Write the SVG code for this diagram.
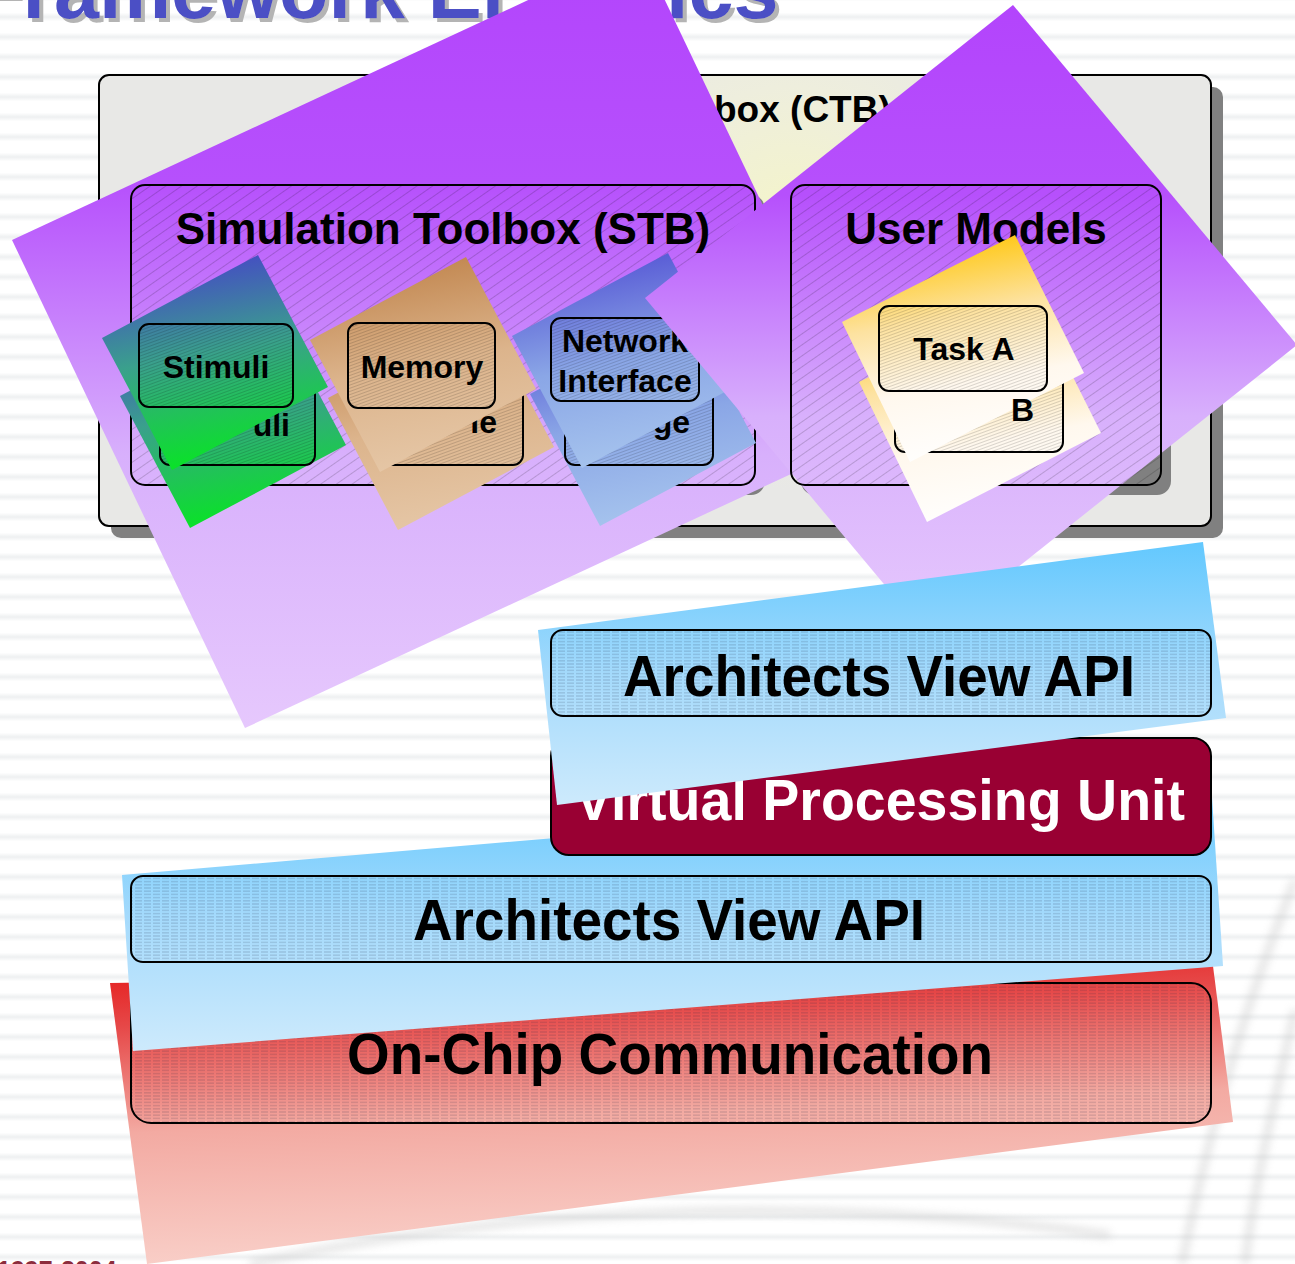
<svg xmlns="http://www.w3.org/2000/svg" width="1295" height="1264" viewBox="0 0 1295 1264">
  <defs>
    <style>
      .lbl { font-family: "Liberation Sans", Arial, sans-serif; font-weight: bold; fill: #000; }
      .big { font-size: 57px; }
      .mid { font-size: 44px; }
      .sm { font-size: 32px; }
      .box { stroke: #000; stroke-width: 2; }
      .shadow { fill: #808080; }
      .hatch { fill: url(#hatchA); }
      .hatchS { fill: url(#hatchB); }
      .dash { fill: url(#dashH); }
    </style>
    <!-- soft horizontal background stripes -->
    <linearGradient id="stripeGrad" x1="0" y1="0" x2="0" y2="1">
      <stop offset="0" stop-color="#ffffff"/>
      <stop offset="0.28" stop-color="#ffffff"/>
      <stop offset="0.5" stop-color="#eef0f1"/>
      <stop offset="0.72" stop-color="#ffffff"/>
      <stop offset="1" stop-color="#ffffff"/>
    </linearGradient>
    <pattern id="stripes" width="20" height="20" y="7" patternUnits="userSpaceOnUse">
      <rect width="20" height="20" fill="url(#stripeGrad)"/>
    </pattern>
    <filter id="soft" x="-20%" y="-20%" width="140%" height="140%">
      <feGaussianBlur stdDeviation="4"/>
    </filter>
    <!-- grey drop shadow for the slide title -->
    <filter id="titleShadow" x="-5%" y="-50%" width="110%" height="200%">
      <feOffset in="SourceAlpha" dx="4" dy="4" result="off"/>
      <feFlood flood-color="#b4b4b4"/>
      <feComposite in2="off" operator="in" result="sh"/>
      <feMerge>
        <feMergeNode in="sh"/>
        <feMergeNode in="SourceGraphic"/>
      </feMerge>
    </filter>
    <!-- fills -->
    <radialGradient id="ctbFill" cx="790" cy="230" r="260" gradientUnits="userSpaceOnUse">
      <stop offset="0" stop-color="#f5f5c8"/>
      <stop offset="0.55" stop-color="#eeeedd"/>
      <stop offset="1" stop-color="#e8e8e6"/>
    </radialGradient>
    <linearGradient id="purple" x1="0" y1="0" x2="0" y2="1">
      <stop offset="0" stop-color="#b344fc"/>
      <stop offset="0.3" stop-color="#b650fc"/>
      <stop offset="0.65" stop-color="#d8b0fc"/>
      <stop offset="1" stop-color="#e6c8fd"/>
    </linearGradient>
    <linearGradient id="gStim" x1="0.4" y1="0" x2="0.6" y2="1">
      <stop offset="0" stop-color="#4646c8"/>
      <stop offset="0.45" stop-color="#3aa08c"/>
      <stop offset="1" stop-color="#04ea1c"/>
    </linearGradient>
    <linearGradient id="gMem" x1="0.4" y1="0" x2="0.6" y2="1">
      <stop offset="0" stop-color="#c0844c"/>
      <stop offset="0.5" stop-color="#dcb48c"/>
      <stop offset="1" stop-color="#e6c8a8"/>
    </linearGradient>
    <linearGradient id="gNet" x1="0.4" y1="0" x2="0.6" y2="1">
      <stop offset="0" stop-color="#5454d4"/>
      <stop offset="0.5" stop-color="#8aa6e6"/>
      <stop offset="1" stop-color="#a8c6ee"/>
    </linearGradient>
    <linearGradient id="gTask" x1="0.4" y1="0" x2="0.6" y2="1">
      <stop offset="0" stop-color="#ffc400"/>
      <stop offset="0.35" stop-color="#fde2a0"/>
      <stop offset="0.65" stop-color="#fff8ee"/>
      <stop offset="1" stop-color="#ffffff"/>
    </linearGradient>
    <linearGradient id="gBlue" x1="0" y1="0" x2="0" y2="1">
      <stop offset="0" stop-color="#62c8fe"/>
      <stop offset="0.5" stop-color="#a4dafc"/>
      <stop offset="1" stop-color="#cdeafc"/>
    </linearGradient>
    <linearGradient id="gRed" x1="0" y1="0" x2="0.15" y2="1">
      <stop offset="0" stop-color="#e51c1c"/>
      <stop offset="0.2" stop-color="#e64848"/>
      <stop offset="0.55" stop-color="#f3aaa2"/>
      <stop offset="1" stop-color="#f9cfc8"/>
    </linearGradient>
    <!-- textures -->
    <pattern id="hatchA" width="9" height="9" patternUnits="userSpaceOnUse" patternTransform="rotate(-35)">
      <line x1="0" y1="4.5" x2="9" y2="4.5" stroke="#000" stroke-opacity="0.28" stroke-width="0.6"/>
    </pattern>
    <pattern id="hatchB" width="6" height="3" patternUnits="userSpaceOnUse" patternTransform="rotate(-20)">
      <line x1="0" y1="1.5" x2="6" y2="1.5" stroke="#000" stroke-opacity="0.3" stroke-width="0.5"/>
    </pattern>
    <pattern id="dashH" width="9" height="3.2" patternUnits="userSpaceOnUse">
      <line x1="0" y1="1.6" x2="7" y2="1.6" stroke="#1a2540" stroke-opacity="0.35" stroke-width="0.7"/>
    </pattern>
  </defs>

  <!-- page background -->
  <rect width="1295" height="1264" fill="#ffffff"/>
  <rect width="1295" height="1264" fill="url(#stripes)"/>
  <g fill="none" stroke="#bdbdbd" stroke-width="7" opacity="0.45" filter="url(#soft)">
    <path d="M1295,880 C1255,980 1215,1100 1182,1264"/>
    <path d="M1295,1010 C1275,1100 1255,1180 1245,1264"/>
    <path d="M250,1264 C520,1205 820,1195 1110,1235"/>
  </g>

  <!-- slide title -->
  <g id="title" font-family="'Liberation Sans', Arial, sans-serif" font-weight="bold" font-size="81" fill="#4b4fc5" filter="url(#titleShadow)">
    <text x="-27" y="18">Framework El</text>
    <text x="666" y="18">ics</text>
  </g>

  <!-- outer toolbox frame -->
  <g id="ctb">
    <rect class="shadow" x="111" y="87" width="1112" height="451" rx="10"/>
    <rect class="box" x="99" y="75" width="1112" height="451" rx="10" fill="url(#ctbFill)"/>
    <text class="lbl" x="714" y="122" font-size="37">box (CTB)</text>
  </g>
  <rect class="shadow" x="141" y="195" width="624" height="300" rx="14"/>
  <rect class="shadow" x="801" y="195" width="370" height="300" rx="14"/>

  <!-- left sheet -->
  <polygon points="12,240 640,-52 873,436 245,728" fill="url(#purple)"/>

  <!-- simulation toolbox -->
  <g id="stb">
    <rect class="box hatch" x="131" y="185" width="624" height="300" rx="14"/>
    <text class="lbl mid" x="443" y="244" text-anchor="middle">Simulation Toolbox (STB)</text>
  </g>

  <g id="stimuli">
    <polygon points="120,396 276,313 346,445 190,528" fill="url(#gStim)"/>
    <rect class="box hatchS" x="160" y="382" width="155" height="83" rx="10"/>
    <text class="lbl sm" x="290" y="436" text-anchor="end">uli</text>
    <polygon points="102,338 258,255 328,387 172,470" fill="url(#gStim)"/>
    <rect class="box hatchS" x="139" y="324" width="154" height="83" rx="10"/>
    <text class="lbl sm" x="216" y="378" text-anchor="middle">Stimuli</text>
  </g>

  <g id="memory">
    <polygon points="328,398 484,315 554,447 398,530" fill="url(#gMem)"/>
    <rect class="box hatchS" x="376" y="380" width="147" height="85" rx="10"/>
    <text class="lbl sm" x="497" y="433" text-anchor="end">le</text>
    <polygon points="310,340 466,257 536,389 380,472" fill="url(#gMem)"/>
    <rect class="box hatchS" x="348" y="323" width="147" height="85" rx="10"/>
    <text class="lbl sm" x="422" y="378" text-anchor="middle">Memory</text>
  </g>

  <g id="network">
    <polygon points="530,394 686,311 756,443 600,526" fill="url(#gNet)"/>
    <rect class="box hatchS" x="565" y="382" width="148" height="83" rx="10"/>
    <text class="lbl sm" x="690" y="433" text-anchor="end">ge</text>
    <polygon points="512,336 668,253 738,385 582,468" fill="url(#gNet)"/>
    <rect class="box hatchS" x="551" y="318" width="148" height="83" rx="10"/>
    <text class="lbl sm" x="625" y="352" text-anchor="middle">Network</text>
    <text class="lbl sm" x="625" y="392" text-anchor="middle">Interface</text>
  </g>

  <!-- right sheet -->
  <polygon points="1013,5 1297,345 929,638 645,298" fill="url(#purple)"/>

  <g id="user-models">
    <rect class="box hatch" x="791" y="185" width="370" height="300" rx="14"/>
    <text class="lbl mid" x="976" y="244" text-anchor="middle">User Models</text>
  </g>

  <g id="tasks">
    <polygon points="859,382 1032,295 1101,433 927,522" fill="url(#gTask)"/>
    <rect class="box hatchS" x="895" y="367" width="168" height="85" rx="10"/>
    <polygon points="842,322 1015,235 1084,373 910,462" fill="url(#gTask)"/>
    <text class="lbl sm" x="1034" y="421" text-anchor="end">B</text>
    <rect class="box hatchS" x="879" y="306" width="168" height="85" rx="10"/>
    <text class="lbl sm" x="964" y="360" text-anchor="middle">Task A</text>
  </g>

  <!-- lower layer stack -->
  <polygon points="110,983 1213,966 1233,1122 147,1264" fill="url(#gRed)"/>
  <g id="on-chip">
    <rect class="box dash" x="131" y="983" width="1080" height="140" rx="20"/>
    <text class="lbl big" x="670" y="1074" text-anchor="middle" textLength="646" lengthAdjust="spacingAndGlyphs">On-Chip Communication</text>
  </g>

  <polygon points="122,875 1211,782 1223,966 133,1051" fill="url(#gBlue)"/>
  <g id="av-api-lower">
    <rect class="box dash" x="131" y="876" width="1080" height="86" rx="12"/>
    <text class="lbl big" x="669" y="940" text-anchor="middle" textLength="512" lengthAdjust="spacingAndGlyphs">Architects View API</text>
  </g>

  <g id="vpu">
    <rect class="box" x="551" y="738" width="660" height="117" rx="18" fill="#990033"/>
    <text class="lbl" x="880" y="820" font-size="58" style="fill:#ffffff" text-anchor="middle" textLength="610" lengthAdjust="spacingAndGlyphs">Virtual Processing Unit</text>
  </g>

  <polygon points="538,630 1203,542 1226,718 557,805" fill="url(#gBlue)"/>
  <g id="av-api-upper">
    <rect class="box dash" x="551" y="630" width="660" height="86" rx="12"/>
    <text class="lbl big" x="879" y="696" text-anchor="middle" textLength="512" lengthAdjust="spacingAndGlyphs">Architects View API</text>
  </g>

  <!-- footer -->
  <text x="-3" y="1279" font-family="'Liberation Sans', Arial, sans-serif" font-weight="bold" font-size="25" fill="#8c2c3c">1997-2004</text>
</svg>
